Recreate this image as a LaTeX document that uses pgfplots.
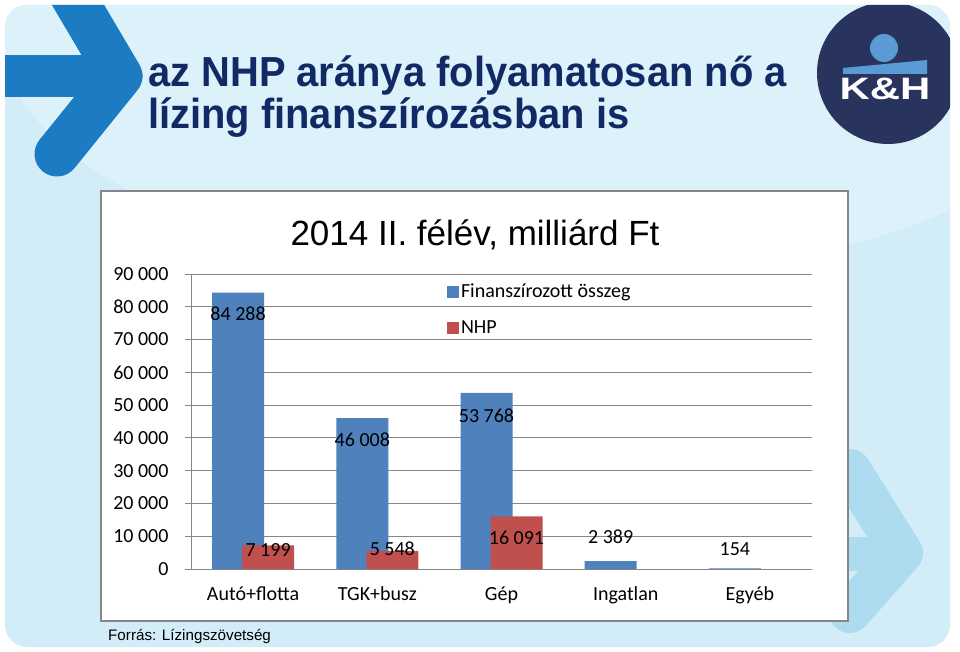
\documentclass[border=0pt]{standalone}
\usepackage{fontspec}
\setmainfont{Liberation Sans}
\newfontfamily\carlito{Carlito}
\newfontfamily\titlefont{Liberation Sans}[FakeStretch=0.95]
\newfontfamily\logofont{Liberation Sans}[FakeStretch=1.35]
\usepackage{pgfplots}
\pgfplotsset{compat=1.18}
\usepackage{pgfplotstable}
\definecolor{bg}{HTML}{D2EDF7}
\definecolor{bglight}{HTML}{DCF1F9}
\definecolor{arrowblue}{HTML}{1C7CC3}
\definecolor{arrowfaint}{HTML}{ADDCF0}
\definecolor{navy}{HTML}{28335E}
\definecolor{titlenavy}{HTML}{112A66}
\definecolor{logoblue}{HTML}{5A9BD5}
\definecolor{xlblue}{HTML}{4F81BD}
\definecolor{xlred}{HTML}{C0504D}
\definecolor{gridgray}{HTML}{868686}

\pgfplotstableread[col sep=comma]{
x,y,lab,dy
0,84288,84 288,-21
1,46008,46 008,-22
2,53768,53 768,-23
3,2389,2 389,24
4,154,154,19.5
}\finan

\pgfplotstableread[col sep=comma]{
x,y,lab,dy
0,7199,7 199,-4.6
1,5548,5 548,2
2,16091,16 091,-22
}\nhp

\begin{document}
\begin{tikzpicture}[x=1pt,y=1pt]
\useasboundingbox (0,0) rectangle (960,651);
\fill[white] (0,0) rectangle (960,651);
\begin{scope}
\clip[rounded corners=22pt] (5,4) rectangle (950,646);
\fill[bg] (0,0) rectangle (960,651);
\fill[bglight] (560,620) ellipse (560 and 250);
% left arrow
\fill[arrowblue] (0,554) rectangle (95,596);
\draw[arrowblue, line width=45pt, line cap=round, line join=round] (58,680) -- (120,575) -- (57,497);
% faint right arrow
\fill[arrowfaint] (800,80) rectangle (880,114);
\draw[arrowfaint, line width=42pt, line cap=round, line join=round] (850,181) -- (902,98) -- (850,39);
% logo
\fill[navy] (888,578) circle (71);
\end{scope}
\fill[logoblue] (884,603) circle (14);
\fill[logoblue] (843,583) -- (927,591) -- (927,577) -- (843,577) -- cycle;
\node[text=white, font=\logofont\bfseries\fontsize{31}{36}\selectfont, inner sep=0] at (885,562) {K\&H};
% main title
\node[anchor=base west, inner sep=0, text=titlenavy, font=\titlefont\bfseries\fontsize{42}{48}\selectfont] at (148,564) {az NHP aránya folyamatosan nő a};
\node[anchor=base west, inner sep=0, text=titlenavy, font=\titlefont\bfseries\fontsize{42}{48}\selectfont] at (148,522) {lízing finanszírozásban is};
% chart box
\filldraw[fill=white, draw=gridgray, line width=1.5pt] (101,30) rectangle (848,460);
\node[anchor=base, inner sep=0, font=\fontsize{35}{42}\selectfont] at (475,405) {2014 II. félév, milliárd Ft};
\node[anchor=west, inner sep=0, font=\fontsize{15.2}{18}\selectfont] at (108,15) {Forrás: Lízingszövetség};
\begin{axis}[
  at={(191pt,82pt)}, anchor=south west,
  scale only axis, width=621pt, height=295pt,
  xmin=-0.5, xmax=4.5, ymin=0, ymax=90000,
  enlargelimits=false, scaled y ticks=false,
  axis lines*=left, axis line style={gridgray, line width=1pt, -},
  ymajorgrids, grid style={gridgray, line width=1pt},
  ytick={0,10000,20000,30000,40000,50000,60000,70000,80000,90000},
  yticklabels={0,10 000,20 000,30 000,40 000,50 000,60 000,70 000,80 000,90 000},
  xtick={0,1,2,3,4}, xticklabels={Autó+flotta,TGK+busz,Gép,Ingatlan,Egyéb},
  tick align=outside, major tick length=6pt,
  ytick style={gridgray, line width=1pt}, xtick style={draw=none},
  tick label style={font=\carlito\fontsize{20}{24}\selectfont, text=black},
  yticklabel style={xshift=-13pt},
  xticklabel style={yshift=-8pt},
  legend style={at={(0.412,0.973)}, anchor=north west, draw=none, fill=none,
    font=\carlito\fontsize{20}{24}\selectfont, row sep=17pt, inner sep=0pt},
  legend cell align=left,
]
\addplot[ybar, bar width=52pt, bar shift=-15pt, fill=xlblue, draw=none,
  legend image code/.code={\fill[xlblue] (0pt,-6pt) rectangle (12pt,6pt);},
  point meta=explicit symbolic, nodes near coords,
  visualization depends on={\thisrow{dy}\as\dy},
  every node near coord/.append style={anchor=center, xshift=-15pt, yshift=\dy pt, font=\carlito\fontsize{20}{24}\selectfont, text=black}]
  table[x=x, y=y, meta=lab] {\finan};
\addlegendentry{Finanszírozott összeg}
\addplot[ybar, bar width=52pt, bar shift=15pt, fill=xlred, draw=none,
  legend image code/.code={\fill[xlred] (0pt,-6pt) rectangle (12pt,6pt);},
  point meta=explicit symbolic, nodes near coords,
  visualization depends on={\thisrow{dy}\as\dy},
  every node near coord/.append style={anchor=center, xshift=15pt, yshift=\dy pt, font=\carlito\fontsize{20}{24}\selectfont, text=black}]
  table[x=x, y=y, meta=lab] {\nhp};
\addlegendentry{NHP}
\end{axis}
\end{tikzpicture}
\end{document}
